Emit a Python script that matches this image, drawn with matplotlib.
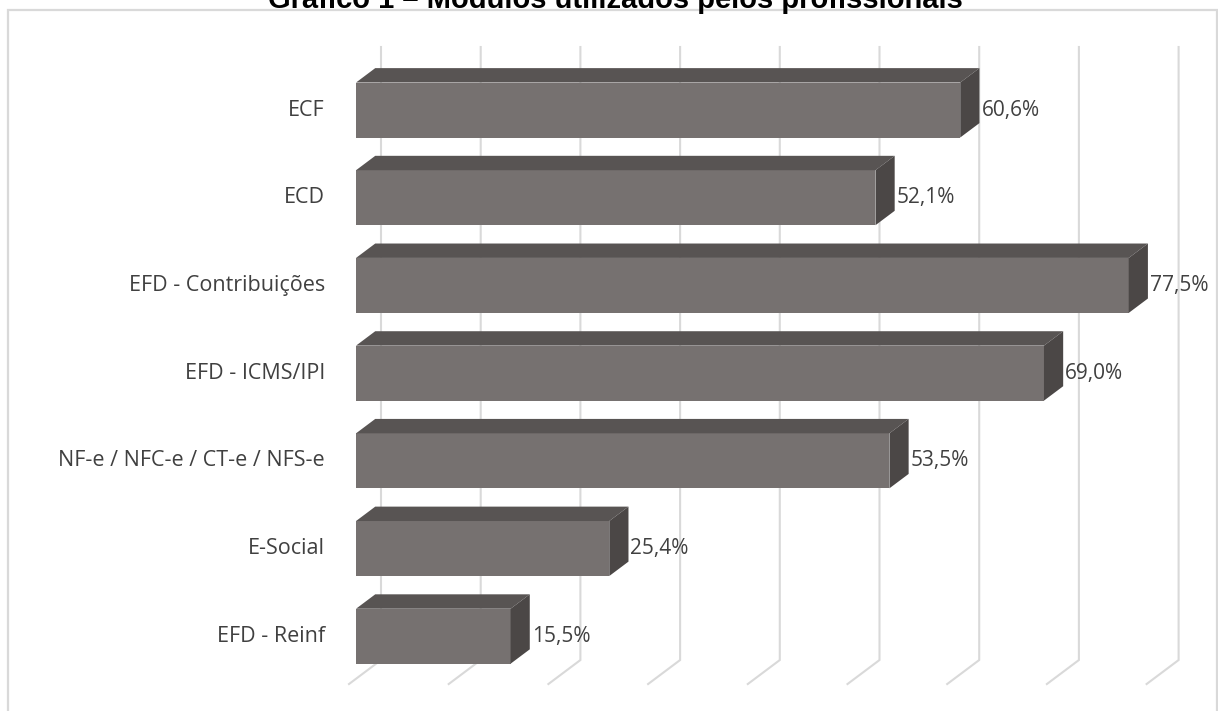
import matplotlib
matplotlib.use("Agg")
import matplotlib.pyplot as plt
from matplotlib.patches import Rectangle

categorias = ["ECF", "ECD", "EFD - Contribuições", "EFD - ICMS/IPI",
              "NF-e / NFC-e / CT-e / NFS-e", "E-Social", "EFD - Reinf"]
valores = [60.6, 52.1, 77.5, 69.0, 53.5, 25.4, 15.5]
rotulos = ["60,6%", "52,1%", "77,5%", "69,0%", "53,5%", "25,4%", "15,5%"]
ticks_x = [0, 10, 20, 30, 40, 50, 60, 70, 80]

titulo = "Gráfico 1 – Módulos utilizados pelos profissionais"

# geometria do grafico 3D (eixo x em %, eixo y em unidades de categoria)
W, H = 1218, 711
PX_X = 9.97          # pixels por ponto percentual
PX_Y = 87.7          # pixels entre categorias
X0_PX = 349          # x do valor 0 no plano frontal
Y0_PX = 641.5        # y da categoria de baixo no plano frontal
DX = 32 / PX_X       # deslocamento em profundidade
DY = 24 / PX_Y
D_FRENTE, D_FUNDO = 0.22, 0.82
ALT = 55 / PX_Y
CHAO = -0.485
TOPO = 6.505

COR_FRENTE = "#767170"
COR_TOPO = "#585453"
COR_LADO = "#4b4746"
COR_GRADE = "#d9d9d9"
COR_TEXTO = "#404040"


def proj(v, y, d):
    return v + d * DX, y + d * DY


fig = plt.figure(figsize=(W / 100, H / 100), dpi=100)
ax = fig.add_axes([0, 0, 1, 1])
ax.set_xlim(-X0_PX / PX_X, (W - X0_PX) / PX_X)
ax.set_ylim((Y0_PX - H) / PX_Y, Y0_PX / PX_Y)
ax.axis("off")

# moldura do grafico
fig.patches.append(Rectangle((8 / W, -0.05), (1217 - 8) / W, 1.05 - 10 / H,
                             transform=fig.transFigure, fill=False,
                             edgecolor=COR_GRADE, linewidth=1.6))

# grade: linhas na parede do fundo e no chao
for v in ticks_x:
    x1, y1 = proj(v, CHAO, 1)
    x2, y2 = proj(v, TOPO, 1)
    x3, y3 = proj(v, CHAO, 0)
    ax.plot([x3, x1, x2], [y3, y1, y2], color=COR_GRADE, lw=1.5, zorder=1,
            solid_joinstyle="miter")

n = len(categorias)
for i, (cat, val, rot) in enumerate(zip(categorias, valores, rotulos)):
    yc = n - 1 - i
    yb, yt = yc - ALT / 2, yc + ALT / 2
    # face frontal
    pts = [proj(0, yb, D_FRENTE), proj(val, yb, D_FRENTE),
           proj(val, yt, D_FRENTE), proj(0, yt, D_FRENTE)]
    ax.fill(*zip(*pts), color=COR_FRENTE, zorder=3, lw=0)
    # face superior
    pts = [proj(0, yt, D_FRENTE), proj(val, yt, D_FRENTE),
           proj(val, yt, D_FUNDO), proj(0, yt, D_FUNDO)]
    ax.fill(*zip(*pts), color=COR_TOPO, zorder=3, lw=0)
    # face lateral
    pts = [proj(val, yb, D_FRENTE), proj(val, yb, D_FUNDO),
           proj(val, yt, D_FUNDO), proj(val, yt, D_FRENTE)]
    ax.fill(*zip(*pts), color=COR_LADO, zorder=3, lw=0)

    xl, yl = proj(val, yc, D_FUNDO)
    ax.text(xl + 0.2, proj(0, yc, D_FRENTE)[1], rot, ha="left", va="center",
            fontsize=15, family="Open Sans", color=COR_TEXTO, zorder=4)
    ax.text(proj(0, 0, 0)[0] - 24 / PX_X, proj(0, yc, D_FRENTE)[1], cat,
            ha="right", va="center", fontsize=15.5, family="Open Sans",
            color=COR_TEXTO, zorder=4)

fig.text(0.505, 1 - 8 / H, titulo, ha="center", va="baseline", fontsize=21,
         fontweight="bold", family="Liberation Sans", color="black")

fig.savefig("out.png", dpi=100)
